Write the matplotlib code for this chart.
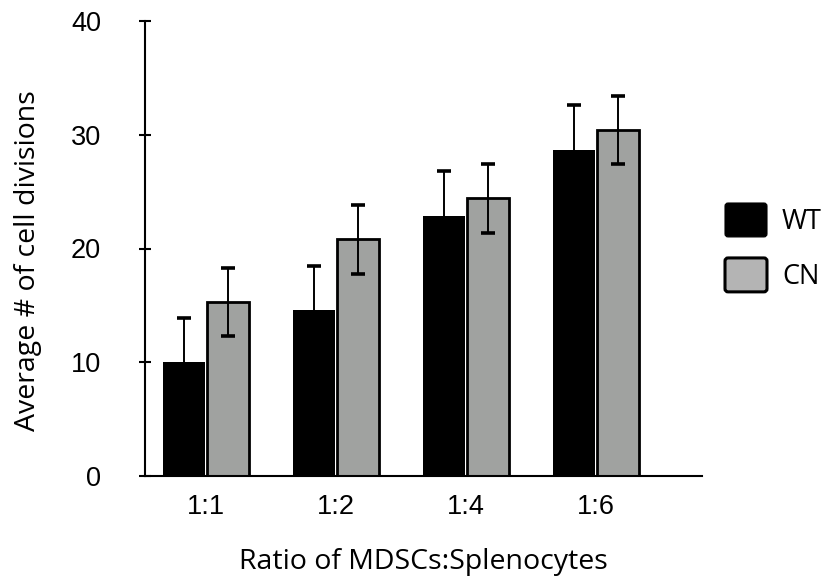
import matplotlib
matplotlib.use("Agg")
import matplotlib.pyplot as plt
import numpy as np
from matplotlib.patches import Patch, FancyBboxPatch
from matplotlib.legend_handler import HandlerPatch

categories = ["1:1", "1:2", "1:4", "1:6"]
wt_values = [10.0, 14.6, 22.9, 28.7]
wt_errors = [3.9, 3.9, 3.9, 3.9]
cn_values = [15.3, 20.8, 24.4, 30.4]
cn_errors = [3.0, 3.0, 3.05, 3.0]
yticks = [0, 10, 20, 30, 40]

fig = plt.figure(figsize=(8.32, 5.84), dpi=100)
ax = fig.add_axes([145/832, 1-476/584, (702-145)/832, (476-21)/584])

x = np.arange(len(categories))
off = 0.172
w = 0.322
ek = dict(ecolor="black", elinewidth=1.4, capsize=4.8, capthick=2.6)
ax.bar(x - off, wt_values, width=w, color="black", edgecolor="none",
       yerr=wt_errors, error_kw=ek, zorder=2)
ax.bar(x + off, cn_values, width=w, color="#a0a2a0", edgecolor="black",
       linewidth=2.0, yerr=cn_errors, error_kw=ek, zorder=2)

ax.set_xlim(-0.469, 3.815)
ax.set_ylim(0, 40)
ax.set_xticks(x)
ax.set_xticklabels(categories, fontfamily="Liberation Sans", fontsize=19.5)
ax.set_yticks(yticks)
ax.set_yticklabels([str(v) for v in yticks], fontfamily="Liberation Sans", fontsize=19.5)
ax.tick_params(axis="x", length=0, pad=13)
ax.tick_params(axis="y", direction="inout", length=9, width=1.5, pad=27)
for s in ["top", "right"]:
    ax.spines[s].set_visible(False)
ax.spines["left"].set_linewidth(1.5)
ax.spines["bottom"].set_linewidth(1.5)

fig.text(423/832, 1-562/584, "Ratio of MDSCs:Splenocytes", fontfamily="Open Sans",
         fontsize=20.5, ha="center", va="center")
fig.text(28/832, 1-261/584, "Average # of cell divisions", fontfamily="Open Sans",
         fontsize=20.5, ha="center", va="center", rotation=90)


class RoundHandler(HandlerPatch):
    def create_artists(self, legend, orig_handle, xdescent, ydescent, width,
                       height, fontsize, trans):
        p = FancyBboxPatch((-xdescent, -ydescent), width, height,
                           boxstyle="round,pad=0,rounding_size=2.2",
                           facecolor=orig_handle.get_facecolor(),
                           edgecolor=orig_handle.get_edgecolor(),
                           linewidth=orig_handle.get_linewidth(),
                           transform=trans)
        return [p]


handles = [Patch(facecolor="black", edgecolor="black", linewidth=0.8),
           Patch(facecolor="#b4b4b4", edgecolor="black", linewidth=2.2)]
fs_leg = 19.5
px = fs_leg * 100 / 72
leg = fig.legend(handles, ["WT", "CN"], loc="upper left",
                 bbox_to_anchor=(725/832, 1-203/584), frameon=False,
                 borderpad=0, borderaxespad=0, handlelength=42/px, handleheight=42/px,
                 handletextpad=15/px, labelspacing=21/px,
                 handler_map={Patch: RoundHandler()},
                 prop={"family": "Open Sans", "size": fs_leg})

fig.savefig("out.png", dpi=100)
